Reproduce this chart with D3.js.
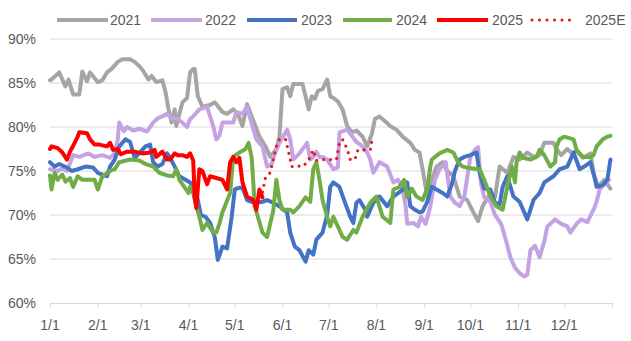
<!DOCTYPE html>
<html>
<head>
<meta charset="utf-8">
<script src="https://cdn.jsdelivr.net/npm/d3@7"></script>
<style>
  html, body { margin: 0; padding: 0; background: #ffffff; }
  svg { display: block; }
  text { font-family: "Liberation Sans Narrow", "Liberation Sans", Arial, sans-serif; fill: #595959; }
</style>
</head>
<body>
<svg id="chart" width="631" height="341"></svg>
<script>
// ---- DATA (day of year, utilisation %) ----
const monthStartDays = [0, 31, 59, 90, 120, 151, 181, 212, 243, 273, 304, 334, 365];
const monthLabels = ["1/1","2/1","3/1","4/1","5/1","6/1","7/1","8/1","9/1","10/1","11/1","12/1"];
const yTicks = [60, 65, 70, 75, 80, 85, 90];
const seriesNames = ["2021", "2022", "2023", "2024", "2025", "2025E"];

const data2021 = [[0,85.3],[1,85.4],[6,86.2],[10,84.6],[12,85.4],[15,83.7],[19,83.7],[21,86.3],[24,85.2],[26,86.2],[31,85.1],[34,85.3],[37,86.2],[40,86.6],[44,87.4],[47,87.7],[52,87.7],[55,87.4],[58,86.9],[60,86.5],[64,85.4],[66,85.8],[69,85.1],[73,85.3],[75,84.0],[77,82.0],[79,80.5],[81,82.0],[82,80.1],[86,82.8],[89,83.3],[91,86.2],[93,86.6],[94,86.6],[96,83.5],[99,82.3],[104,82.5],[107,82.8],[112,81.7],[115,81.5],[119,82.0],[122,81.5],[125,80.1],[128,82.6],[131,81.2],[136,78.9],[140,77.8],[143,76.6],[147,77.5],[149,78.9],[151,84.3],[154,84.5],[156,83.5],[158,84.9],[164,84.9],[166,83.5],[168,82.0],[170,83.5],[172,83.2],[174,84.1],[177,84.3],[180,85.4],[182,83.5],[184,83.3],[187,82.9],[190,82.0],[193,80.1],[196,79.4],[199,79.6],[203,78.9],[206,77.8],[209,79.2],[211,80.9],[214,81.2],[218,80.6],[221,80.1],[225,79.7],[229,78.9],[234,78.2],[237,77.4],[240,77.1],[242,75.2],[245,72.1],[247,73.5],[251,75.5],[255,76.0],[258,75.0],[262,74.4],[266,72.1],[271,71.7],[275,70.3],[278,69.3],[281,71.0],[286,72.5],[289,72.0],[292,75.5],[297,74.8],[301,76.6],[305,76.3],[310,77.1],[314,76.6],[318,76.8],[321,78.2],[327,78.2],[329,77.5],[332,76.8],[336,77.5],[339,77.0],[342,77.3],[346,76.5],[351,77.0],[353,74.8],[356,73.2],[360,74.0],[364,73.0]];

const data2022 = [[0,75.2],[5,75.0],[8,75.3],[11,75.0],[15,76.8],[19,76.6],[25,77.0],[29,76.6],[34,76.8],[39,76.5],[42,77.0],[44,78.6],[45,80.5],[48,79.5],[50,80.0],[54,79.6],[58,79.8],[63,79.5],[65,80.0],[67,80.5],[70,81.0],[73,81.2],[76,81.5],[79,81.0],[82,81.0],[86,80.5],[89,80.0],[91,80.9],[93,81.2],[97,82.0],[102,82.3],[106,80.1],[108,78.6],[110,79.0],[112,80.5],[119,80.5],[121,81.7],[125,81.5],[128,82.3],[130,81.0],[134,78.6],[138,77.8],[141,75.5],[144,75.8],[146,77.0],[149,78.2],[154,79.7],[156,78.6],[158,76.3],[162,77.0],[167,78.2],[169,76.3],[171,76.6],[173,77.2],[175,76.6],[177,76.6],[180,76.3],[184,75.2],[187,75.4],[188,79.4],[193,79.7],[196,79.0],[199,78.3],[203,77.8],[206,77.1],[208,76.3],[210,74.8],[214,76.0],[219,75.5],[223,73.7],[226,74.0],[229,73.0],[231,71.0],[232,69.0],[236,69.1],[239,68.7],[241,69.8],[244,69.0],[247,71.0],[250,74.0],[253,75.2],[257,76.0],[260,72.1],[263,71.4],[266,71.0],[269,72.0],[273,76.6],[276,77.4],[278,77.7],[280,73.5],[282,72.0],[286,71.5],[289,70.0],[293,69.0],[296,67.2],[299,65.2],[302,64.0],[305,63.4],[308,63.0],[310,63.2],[312,66.0],[315,66.5],[318,65.2],[321,67.0],[323,68.7],[328,69.5],[332,69.0],[336,68.7],[338,68.0],[342,69.0],[345,69.5],[349,69.2],[353,70.6],[355,71.5],[357,72.9],[360,73.5],[363,74.0]];

const data2023 = [[0,76.0],[3,75.5],[6,75.8],[11,75.4],[14,75.0],[18,75.2],[23,75.5],[28,75.4],[31,74.8],[34,74.6],[37,74.4],[39,75.5],[42,76.3],[45,77.8],[49,78.6],[52,78.3],[55,76.5],[58,77.0],[62,77.8],[65,78.0],[67,76.0],[70,75.5],[73,75.8],[76,77.0],[78,76.5],[81,75.5],[84,74.4],[88,74.0],[91,73.7],[94,73.0],[96,71.7],[98,70.0],[101,69.8],[104,69.1],[107,67.5],[109,64.9],[112,66.4],[115,66.2],[118,69.8],[120,72.9],[123,73.1],[125,73.1],[128,71.7],[131,71.5],[134,71.4],[138,71.5],[141,71.7],[145,71.4],[149,71.0],[154,70.3],[156,68.0],[159,66.4],[162,66.0],[166,64.7],[168,66.0],[171,65.5],[173,67.2],[177,68.0],[180,70.0],[182,73.2],[184,73.7],[188,73.2],[191,71.7],[195,69.8],[197,69.1],[199,71.4],[201,71.7],[205,70.5],[206,69.8],[210,71.4],[214,72.1],[219,71.0],[223,72.1],[227,72.6],[230,73.0],[232,73.7],[234,71.0],[237,70.6],[240,70.3],[242,70.4],[245,71.5],[248,73.2],[251,72.9],[255,72.5],[258,72.1],[261,73.5],[263,75.0],[266,76.3],[269,76.6],[273,76.8],[277,77.1],[279,74.8],[282,73.0],[286,72.9],[289,71.4],[292,71.2],[294,73.2],[297,74.4],[301,72.1],[305,71.5],[310,69.5],[314,71.7],[318,72.5],[321,73.7],[327,74.4],[331,75.2],[336,75.5],[340,77.1],[344,75.2],[347,75.5],[351,76.0],[354,74.0],[355,73.2],[359,73.4],[362,74.0],[364,76.3]];

const data2024 = [[0,74.5],[1,72.9],[3,74.8],[5,74.0],[8,74.6],[10,73.8],[13,74.2],[15,73.2],[18,74.4],[21,74.0],[26,74.0],[29,74.0],[31,72.9],[34,74.4],[39,75.0],[42,75.2],[45,76.0],[52,76.3],[58,76.2],[62,75.8],[67,75.5],[71,74.8],[76,74.5],[80,74.4],[82,75.2],[84,74.0],[88,73.0],[90,72.5],[91,73.2],[93,72.5],[95,71.0],[97,69.8],[99,68.3],[102,69.1],[106,68.0],[108,68.0],[110,69.0],[112,70.3],[117,72.5],[119,76.6],[123,77.1],[127,77.5],[129,78.2],[131,76.5],[133,71.0],[135,69.8],[138,68.0],[141,67.5],[143,69.0],[145,70.5],[147,74.0],[149,71.7],[151,70.6],[156,70.6],[158,70.3],[162,71.0],[166,72.0],[169,71.5],[171,75.2],[173,76.0],[175,74.0],[177,71.7],[180,69.8],[182,68.7],[184,69.8],[188,68.3],[190,67.5],[193,67.2],[197,68.3],[199,68.0],[203,69.8],[208,71.4],[212,72.1],[216,69.8],[221,69.1],[223,72.9],[227,73.2],[230,74.0],[232,72.0],[235,73.0],[238,72.1],[242,71.7],[245,73.0],[247,75.5],[248,76.3],[253,77.0],[258,77.4],[262,77.1],[265,76.0],[268,75.5],[273,75.3],[279,75.2],[282,74.0],[286,72.1],[290,71.0],[294,70.6],[297,73.2],[300,75.5],[302,73.7],[303,76.0],[305,77.1],[307,76.5],[312,76.3],[316,76.6],[318,77.4],[321,76.8],[325,75.5],[328,76.0],[329,77.8],[331,78.6],[334,78.9],[340,78.6],[342,77.4],[346,76.6],[351,76.6],[353,76.8],[355,77.8],[359,78.6],[362,78.9],[364,79.0]];

const data2025 = [[0,77.5],[1,77.8],[5,77.6],[8,77.1],[11,76.3],[13,77.2],[16,78.2],[18,78.9],[19,79.4],[24,79.3],[26,78.6],[29,78.0],[32,78.0],[37,77.8],[39,78.2],[41,77.4],[44,77.5],[46,76.9],[50,77.2],[55,77.2],[60,77.0],[65,77.1],[68,77.4],[69,76.6],[73,77.2],[76,76.3],[78,76.3],[81,77.0],[83,76.8],[86,76.8],[89,76.6],[91,77.0],[93,76.2],[94,72.0],[95,70.8],[97,75.2],[99,75.0],[102,73.5],[104,74.4],[108,74.2],[112,74.0],[115,72.9],[117,76.0],[119,76.6],[121,76.0],[123,76.5],[125,73.7],[128,72.1],[132,71.7],[134,70.6],[136,72.9],[138,72.0]];

const data2025E = [[138,72.6],[140,74.3],[143,74.8],[145,76.3],[147,77.8],[149,78.6],[153,78.6],[155,77.1],[157,75.5],[160,75.6],[164,75.5],[167,76.0],[169,76.6],[171,77.4],[173,76.2],[175,76.3],[182,76.3],[186,76.3],[188,78.2],[190,78.6],[193,77.5],[195,76.3],[198,76.3],[200,77.4],[203,77.4],[208,77.4],[209,78.4]];

const seriesColors = ["#A5A5A5", "#C4A2E3", "#4472C4", "#70AD47", "#FF0000", "#E8191F"];

// ---- CHART ----
const svg = d3.select("#chart");
const x = d3.scaleLinear().domain([0, 365]).range([50, 612]);
const y = d3.scaleLinear().domain([60, 90]).range([303, 39]);

// gridlines
svg.append("g").selectAll("line").data(yTicks.filter(t => t > 60)).join("line")
  .attr("x1", x(0)).attr("x2", x(365))
  .attr("y1", d => y(d)).attr("y2", d => y(d))
  .attr("stroke", "#D9D9D9").attr("stroke-width", 1);

// y axis labels
svg.append("g").selectAll("text").data(yTicks).join("text")
  .attr("x", 36).attr("y", d => y(d)).attr("dy", "0.35em")
  .attr("text-anchor", "end").attr("font-size", 14)
  .text(d => d + "%");

// x axis
const xAxis = d3.axisBottom(x).tickValues(monthStartDays).tickSize(5).tickFormat("");
const gx = svg.append("g").attr("transform", `translate(0,${y(60)})`).call(xAxis);
gx.select(".domain").attr("stroke", "#D9D9D9");
gx.selectAll(".tick line").attr("stroke", "#D9D9D9");

svg.append("g").selectAll("text").data(monthLabels).join("text")
  .attr("x", (d, i) => x(monthStartDays[i]))
  .attr("y", 330)
  .attr("text-anchor", "middle").attr("font-size", 14)
  .text(d => d);

// lines
const line = d3.line().x(d => x(d[0])).y(d => y(d[1]));
const allData = [data2021, data2022, data2023, data2024, data2025, data2025E];
allData.forEach((ds, i) => {
  const p = svg.append("path").datum(ds)
    .attr("d", line)
    .attr("fill", "none")
    .attr("stroke", seriesColors[i])
    .attr("stroke-linejoin", "round");
  if (i === 5) {
    p.attr("stroke-width", 3.2).attr("stroke-linecap", "round").attr("stroke-dasharray", "0 7");
  } else {
    p.attr("stroke-width", 4).attr("stroke-linecap", "round");
  }
});

// legend
const legendLineX = [57, 151, 247, 343, 437, 532];
const legendLineW = [51, 51, 50, 49, 51, 45];
const legendTextX = [110, 205, 301, 396, 492, 585];
const lg = svg.append("g");
seriesNames.forEach((name, i) => {
  const ly = 20;
  const l = lg.append("line")
    .attr("x1", legendLineX[i]).attr("x2", legendLineX[i] + legendLineW[i])
    .attr("y1", ly).attr("y2", ly)
    .attr("stroke", seriesColors[i]);
  if (i === 5) {
    l.attr("stroke-width", 3.2).attr("stroke-linecap", "round").attr("stroke-dasharray", "0 7.5");
  } else {
    l.attr("stroke-width", 4);
  }
  lg.append("text").attr("x", legendTextX[i]).attr("y", ly).attr("dy", "0.35em")
    .attr("font-size", 14).text(name);
});
</script>
</body>
</html>
